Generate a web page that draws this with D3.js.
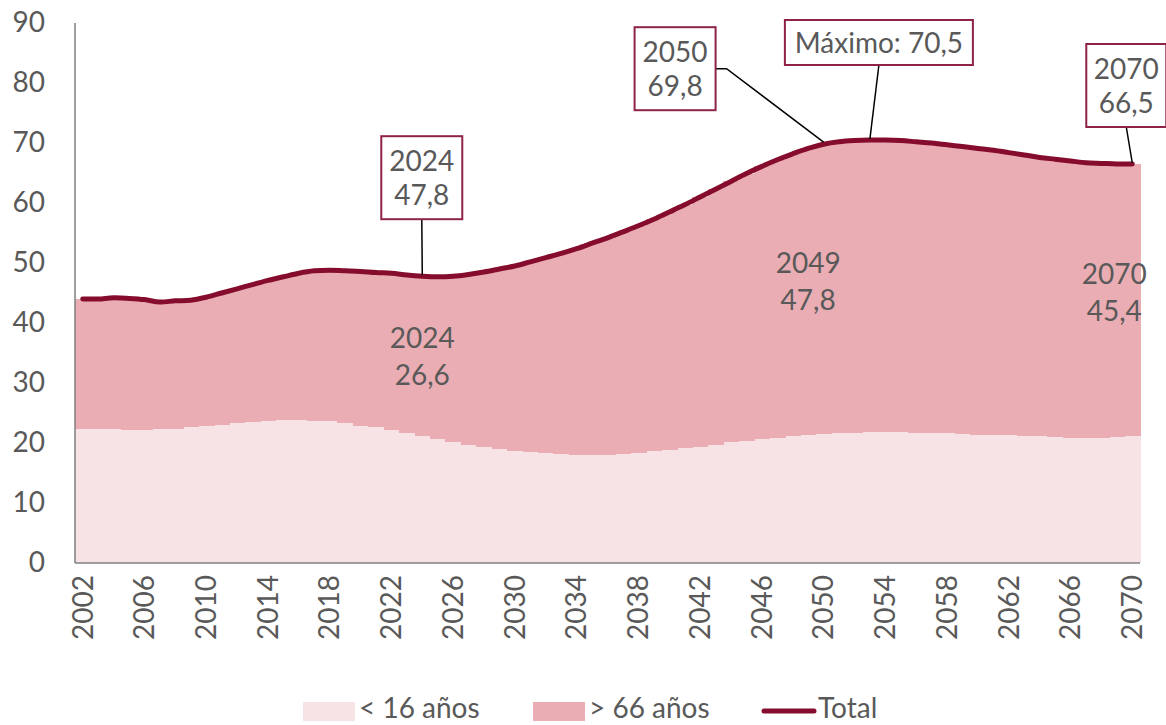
<!DOCTYPE html>
<html>
<head>
<meta charset="utf-8">
<script src="https://cdn.jsdelivr.net/npm/d3@7"></script>
<style>
  html, body { margin: 0; padding: 0; background: #fff; }
  svg { display: block; font-family: Lato, "Open Sans", sans-serif; }
</style>
</head>
<body>
<svg id="chart" width="1166" height="725"></svg>
<script>
// ---------- DATA ----------
const years = d3.range(2002, 2071);
const xTickLabels = ["2002","2006","2010","2014","2018","2022","2026","2030","2034","2038","2042","2046","2050","2054","2058","2062","2066","2070"];
const yTickLabels = [0, 10, 20, 30, 40, 50, 60, 70, 80, 90];

// Tasa de dependencia < 16 años
const under16 = [
  22.4, 22.3, 22.3, 22.2, 22.2, 22.3, 22.3, 22.6, 22.8, 23.0,
  23.3, 23.5, 23.7, 23.8, 23.8, 23.7, 23.6, 23.4, 22.9, 22.6,
  22.2, 21.7, 21.2, 20.6, 20.1, 19.7, 19.3, 19.0, 18.7, 18.5,
  18.3, 18.1, 18.0, 18.0, 18.0, 18.2, 18.4, 18.6, 18.8, 19.1,
  19.4, 19.7, 20.1, 20.4, 20.7, 20.9, 21.2, 21.3, 21.5, 21.7,
  21.7, 21.8, 21.8, 21.8, 21.7, 21.7, 21.6, 21.5, 21.4, 21.3,
  21.3, 21.2, 21.1, 21.0, 20.9, 20.9, 20.9, 21.0, 21.1
];
// Tasa de dependencia total
const total = [
  44.0, 44.0, 44.2, 44.1, 43.9, 43.5, 43.7, 43.8, 44.3, 45.0,
  45.7, 46.4, 47.1, 47.7, 48.3, 48.7, 48.8, 48.7, 48.6, 48.4,
  48.3, 48.0, 47.8, 47.7, 47.8, 48.1, 48.5, 49.0, 49.5, 50.2,
  50.9, 51.6, 52.4, 53.3, 54.2, 55.2, 56.2, 57.3, 58.5, 59.7,
  61.0, 62.3, 63.6, 64.9, 66.1, 67.2, 68.2, 69.1, 69.8, 70.2,
  70.4, 70.5, 70.5, 70.4, 70.2, 70.0, 69.7, 69.4, 69.1, 68.8,
  68.4, 68.0, 67.6, 67.3, 67.0, 66.7, 66.6, 66.5, 66.5
];
// > 66 años = total - < 16 años
const over66 = total.map((t, i) => +(t - under16[i]).toFixed(1));

const seriesNames = ["< 16 años", "> 66 años", "Total"];

// callouts on the total line
const lineCallouts = [
  { year: 2024, value: 47.8, lines: ["2024", "47,8"] },
  { year: 2050, value: 69.8, lines: ["2050", "69,8"] },
  { year: 2053, value: 70.5, lines: ["Máximo: 70,5"] },
  { year: 2070, value: 66.5, lines: ["2070", "66,5"] }
];
// labels inside the > 66 area
const areaLabels = [
  { year: 2024, lines: ["2024", "26,6"] },
  { year: 2049, lines: ["2049", "47,8"] },
  { year: 2070, lines: ["2070", "45,4"] }
];

// ---------- STYLE ----------
const colLow = "#F7E2E5";
const colHigh = "#E9ADB3";
const colLine = "#850C2C";
const colBox = "#8E2347";
const colText = "#595959";
const fs = 28;

const svg = d3.select("#chart");
const pLeft = 75, pRight = 1140, pTop = 23, pBottom = 563;

const x = d3.scaleBand().domain(years).range([pLeft, pRight]).padding(0);
const y = d3.scaleLinear().domain([0, 90]).range([pBottom, pTop]);
const cx = yr => x(yr) + x.bandwidth() / 2;

// stacked columns with no gap
const stackData = years.map((yr, i) => ({ year: yr, low: under16[i], high: over66[i] }));
const stacked = d3.stack().keys(["low", "high"])(stackData);
const fills = { low: colLow, high: colHigh };

svg.append("g").selectAll("g").data(stacked).join("g")
  .attr("fill", d => fills[d.key])
  .selectAll("rect").data(d => d).join("rect")
  .attr("x", d => x(d.data.year))
  .attr("width", x.bandwidth() + 0.6)
  .attr("y", d => y(d[1]))
  .attr("height", d => y(d[0]) - y(d[1]))
  .attr("shape-rendering", "crispEdges");

// total line
const line = d3.line()
  .x((d, i) => cx(years[i]))
  .y(d => y(d))
  .curve(d3.curveCatmullRom.alpha(0.5));
svg.append("path").datum(total)
  .attr("d", line)
  .attr("fill", "none")
  .attr("stroke", colLine)
  .attr("stroke-width", 5)
  .attr("stroke-linecap", "round")
  .attr("stroke-linejoin", "round");

// axes
svg.append("line").attr("x1", pLeft).attr("x2", pLeft).attr("y1", pTop).attr("y2", pBottom)
  .attr("stroke", "#7F7F7F").attr("stroke-width", 1.5);
svg.append("line").attr("x1", pLeft).attr("x2", pRight).attr("y1", pBottom).attr("y2", pBottom)
  .attr("stroke", "#7F7F7F").attr("stroke-width", 1.5);

const yAxis = d3.axisLeft(y).tickValues(yTickLabels).tickSize(0).tickPadding(30)
  .tickFormat(d3.format("d"));
const gy = svg.append("g").attr("transform", `translate(${pLeft},0)`).call(yAxis);
gy.select(".domain").remove();
gy.selectAll("text").attr("fill", colText).attr("font-size", fs)
  .attr("font-family", "Lato, 'Open Sans', sans-serif");

const xAxis = d3.axisBottom(x).tickValues(xTickLabels.map(Number)).tickSize(0).tickFormat(d => String(d));
const gx = svg.append("g").attr("transform", `translate(0,${pBottom})`).call(xAxis);
gx.select(".domain").remove();
gx.selectAll("text")
  .attr("fill", colText).attr("font-size", fs)
  .attr("font-family", "Lato, 'Open Sans', sans-serif")
  .attr("transform", "rotate(-90)")
  .attr("text-anchor", "end")
  .attr("dy", "0.35em")
  .attr("x", -12)
  .attr("y", 0);

// area labels
const lh = 37;
areaLabels.forEach((a, k) => {
  const i = years.indexOf(a.year);
  const mid = (under16[i] + total[i]) / 2;
  const offs = [[0, 0], [0, -10], [-18, -8]][k];
  const t = svg.append("text")
    .attr("text-anchor", "middle").attr("fill", colText).attr("font-size", fs);
  a.lines.forEach((s, j) => {
    t.append("tspan").attr("x", cx(a.year) + offs[0])
      .attr("y", y(mid) + offs[1] + (j - 0.5) * lh + 10).text(s);
  });
});

// callouts (box offsets relative to anchor point on the line)
const boxes = [
  { dx: -41, dy: -140, w: 81, h: 83, leader: "v" },
  { dx: -189, dy: -117, w: 81, h: 83, leader: "elbow" },
  { dx: -85, dy: -120, w: 188, h: 45, leader: "v" },
  { dx: -46, dy: -120, w: 80, h: 83, leader: "v" }
];
lineCallouts.forEach((c, k) => {
  const px = cx(c.year), py = y(c.value);
  const b = boxes[k];
  const bx = px + b.dx, by = py + b.dy;
  const g = svg.append("g");
  if (b.leader === "elbow") {
    g.append("polyline")
      .attr("points", `${bx + b.w},${by + b.h / 2} ${bx + b.w + 11},${by + b.h / 2} ${px},${py - 2}`)
      .attr("fill", "none").attr("stroke", "#000").attr("stroke-width", 1.5);
  } else {
    g.append("line").attr("x1", bx + b.w / 2).attr("y1", by + b.h)
      .attr("x2", px).attr("y2", py - 1)
      .attr("stroke", "#000").attr("stroke-width", 1.5);
  }
  g.append("rect").attr("x", bx).attr("y", by).attr("width", b.w).attr("height", b.h)
    .attr("fill", "#fff").attr("stroke", colBox).attr("stroke-width", 2);
  const t = g.append("text").attr("text-anchor", "middle").attr("fill", colText).attr("font-size", fs);
  const n = c.lines.length;
  c.lines.forEach((s, j) => {
    t.append("tspan").attr("x", bx + b.w / 2)
      .attr("y", by + b.h / 2 + (j - (n - 1) / 2) * 34 + 10).text(s);
  });
});

// legend
const lg = svg.append("g").attr("font-size", fs).attr("fill", colText);
const legendItems = [
  { name: seriesNames[0], type: "rect", color: colLow, x: 303, w: 52 },
  { name: seriesNames[1], type: "rect", color: colHigh, x: 533, w: 52 },
  { name: seriesNames[2], type: "line", color: colLine, x: 764, w: 50 }
];
legendItems.forEach(it => {
  if (it.type === "rect") {
    lg.append("rect").attr("x", it.x).attr("y", 702).attr("width", it.w).attr("height", 19).attr("fill", it.color);
  } else {
    lg.append("line").attr("x1", it.x).attr("x2", it.x + it.w).attr("y1", 711).attr("y2", 711)
      .attr("stroke", it.color).attr("stroke-width", 5).attr("stroke-linecap", "round");
  }
  lg.append("text").attr("x", it.x + it.w + 4).attr("y", 718).text(it.name);
});
</script>
</body>
</html>
